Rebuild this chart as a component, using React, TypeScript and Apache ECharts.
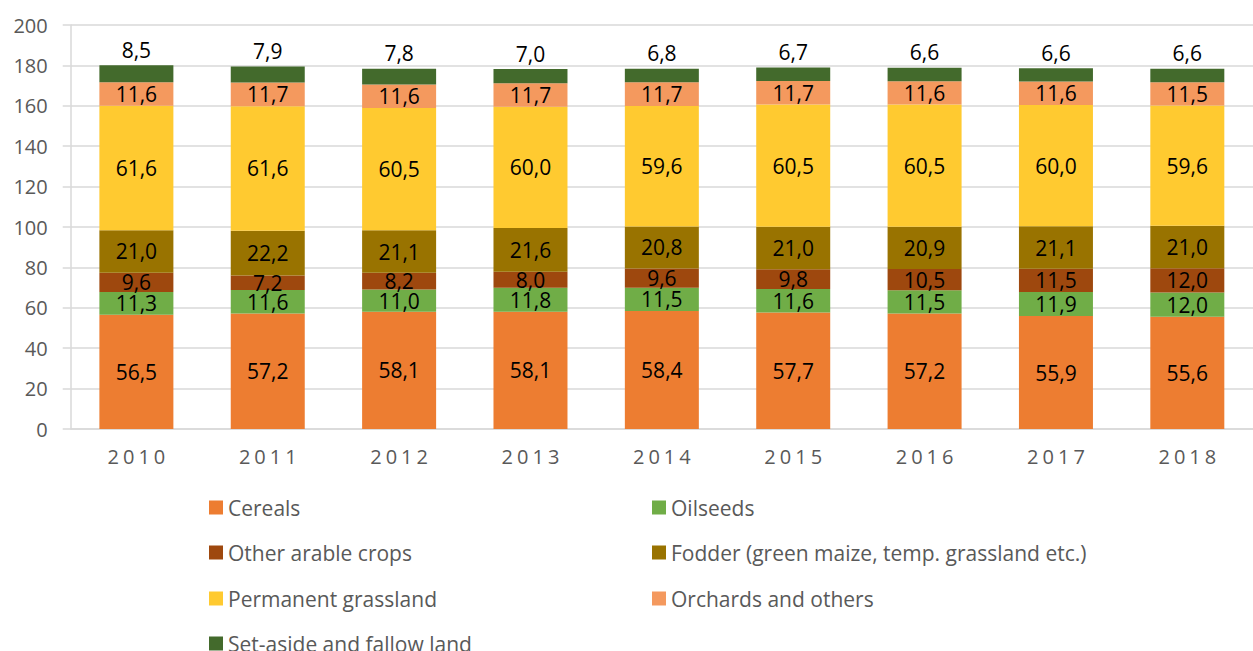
import React, { useEffect, useRef } from "react";
import * as echarts from "echarts";

const years = ["2010", "2011", "2012", "2013", "2014", "2015", "2016", "2017", "2018"];
const cereals = [56.5, 57.2, 58.1, 58.1, 58.4, 57.7, 57.2, 55.9, 55.6];
const oilseeds = [11.3, 11.6, 11.0, 11.8, 11.5, 11.6, 11.5, 11.9, 12.0];
const otherArable = [9.6, 7.2, 8.2, 8.0, 9.6, 9.8, 10.5, 11.5, 12.0];
const fodder = [21.0, 22.2, 21.1, 21.6, 20.8, 21.0, 20.9, 21.1, 21.0];
const permanentGrassland = [61.6, 61.6, 60.5, 60.0, 59.6, 60.5, 60.5, 60.0, 59.6];
const orchards = [11.6, 11.7, 11.6, 11.7, 11.7, 11.7, 11.6, 11.6, 11.5];
const setAside = [8.5, 7.9, 7.8, 7.0, 6.8, 6.7, 6.6, 6.6, 6.6];

const seriesNames = [
  "Cereals",
  "Oilseeds",
  "Other arable crops",
  "Fodder (green maize, temp. grassland etc.)",
  "Permanent grassland",
  "Orchards and others",
  "Set-aside and fallow land",
];
const seriesData = [cereals, oilseeds, otherArable, fodder, permanentGrassland, orchards, setAside];
const colors = ["#ED7D31", "#70AD47", "#9E480E", "#997300", "#FFCA30", "#F4995E", "#436A2C"];

const FONT = "'Open Sans', 'Noto Sans', sans-serif";
const fmt = (v: number) => v.toFixed(1).replace(".", ",");

// legend layout: [left, top] per series
const legendPos: [number, number][] = [
  [209, 497],
  [652, 497],
  [209, 542],
  [652, 542],
  [209, 588],
  [652, 588],
  [209, 633],
];

export default function App() {
  const ref = useRef<HTMLDivElement>(null);
  useEffect(() => {
    if (!ref.current) return;
    const chart = echarts.init(ref.current, null, { renderer: "svg" });
    const series = seriesNames.map((name, i) => ({
      name,
      type: "bar",
      stack: "total",
      barWidth: 74,
      data: seriesData[i],
      itemStyle: { color: colors[i] },
      label: {
        show: true,
        position: i === 6 ? "top" : "inside",
        distance: 5,
        formatter: (p: any) => fmt(p.value),
        color: "#000000",
        fontFamily: FONT,
        fontSize: 21,
      },
    }));
    chart.setOption({
      animation: false,
      grid: { left: 70.7, top: 25, width: 1194.5, height: 404, containLabel: false },
      xAxis: {
        type: "category",
        data: years,
        axisTick: { show: false },
        axisLine: { show: true, lineStyle: { color: "#D9D9D9", width: 1.5 } },
        axisLabel: {
          color: "#595959",
          fontFamily: FONT,
          fontSize: 20,
          margin: 17,
          formatter: (v: string) => v.split("").join("\u200A\u200A"),
        },
      },
      yAxis: {
        type: "value",
        min: 0,
        max: 200,
        interval: 20,
        axisLine: { show: true, lineStyle: { color: "#D9D9D9", width: 1.5 } },
        axisTick: { show: true, length: 8, lineStyle: { color: "#D9D9D9", width: 1.5 } },
        splitLine: { show: true, lineStyle: { color: "#D9D9D9", width: 1.5 } },
        axisLabel: { color: "#595959", fontFamily: FONT, fontSize: 20, margin: 23 },
      },
      legend: seriesNames.map((name, i) => ({
        data: [name],
        left: legendPos[i][0],
        top: legendPos[i][1],
        padding: 0,
        icon: "rect",
        itemWidth: 14,
        itemHeight: 14,
        itemGap: 5,
        selectedMode: false,
        textStyle: { color: "#595959", fontFamily: FONT, fontSize: 21, lineHeight: 14, padding: [0, 0, 0, 0] },
      })),
      series,
    });
    return () => chart.dispose();
  }, []);
  return (
    <div
      ref={ref}
      style={{ position: "absolute", left: 0, top: 0, width: 1253, height: 651, background: "#ffffff" }}
    />
  );
}
